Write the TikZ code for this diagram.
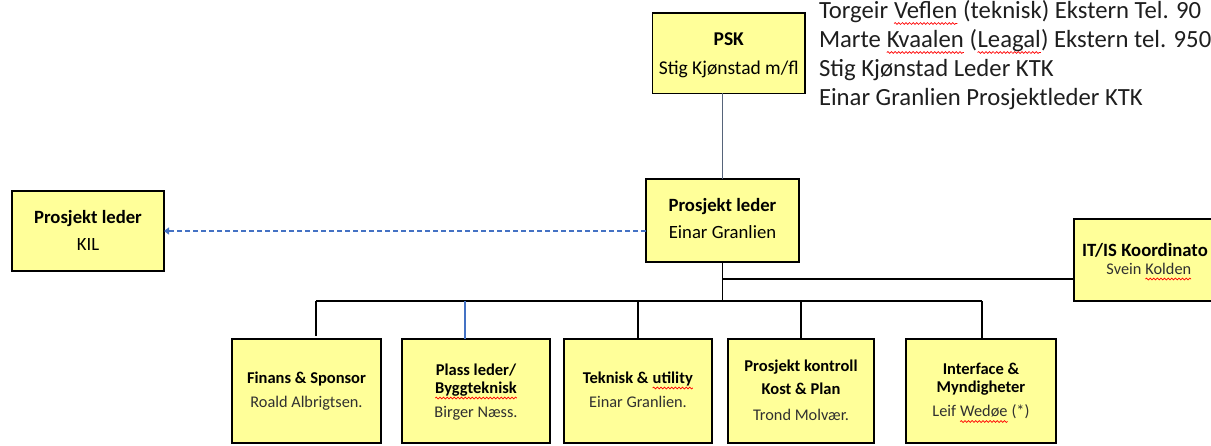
\documentclass[tikz,border=0pt]{standalone}
\usepackage{fontspec}
\setmainfont{Carlito}
\usetikzlibrary{decorations.pathmorphing,arrows.meta}
\definecolor{boxfill}{HTML}{FFFF99}
\definecolor{dashblue}{HTML}{4472C4}
\definecolor{slateline}{HTML}{56647A}
\definecolor{subtxt}{HTML}{303030}
\definecolor{sidetxt}{HTML}{1E1E1E}
\newcommand\fsz[1]{\fontsize{#1}{#1}\selectfont}
\newcommand\sqg[1]{\tikz[baseline=(sqt.base)]{\node[inner sep=0pt,outer sep=0pt](sqt){#1};\draw[red,line width=0.7pt,decorate,decoration={snake,amplitude=0.9pt,segment length=3.6pt}]([yshift=-5pt]sqt.base west)--([yshift=-5pt]sqt.base east);}}
\begin{document}
\begin{tikzpicture}[x=1pt,y=-1pt,
 box/.style={draw=black,line width=1.6pt,fill=boxfill,inner sep=0pt,outer sep=0pt},
 conn/.style={draw=black,line width=1.4pt},
 lbl/.style={inner sep=0pt,outer sep=0pt,anchor=base},
 hdA/.style={lbl,font=\bfseries\fsz{18.7}},
 nmA/.style={lbl,font=\fsz{18.7}},
 hdB/.style={lbl,font=\bfseries\fsz{16.5}},
 nmB/.style={lbl,font=\fsz{16.3},text=subtxt},
 side/.style={inner sep=0pt,outer sep=0pt,anchor=base west,font=\fsz{24.7},text=sidetxt}]
\useasboundingbox (0,0) rectangle (1211,445);
\clip (0,0) rectangle (1211,445);
% boxes
\node[box,minimum width=152.5pt,minimum height=80.6pt] (psk) at (728.75,53) {};
\node[box,minimum width=153pt,minimum height=83pt] (pl) at (722.5,220.5) {};
\node[box,minimum width=152pt,minimum height=80pt] (kil) at (88,231) {};
\node[box,minimum width=150pt,minimum height=82pt] (itis) at (1149,260) {};
\node[box,minimum width=149pt,minimum height=104pt] (fin) at (306.5,391) {};
\node[box,minimum width=148pt,minimum height=104pt] (plass) at (476,391) {};
\node[box,minimum width=148pt,minimum height=104pt] (tek) at (638,391) {};
\node[box,minimum width=146pt,minimum height=104pt] (kon) at (801,391) {};
\node[box,minimum width=150pt,minimum height=104pt] (int) at (981,391) {};
% box texts
\node[hdA,font=\bfseries\fsz{19.5}] (pskA) at (728.75,45) {PSK};
\node[nmA,font=\fsz{19.5}] (pskB) at (728.75,74) {Stig Kjønstad m/fl};
\node[hdA] (plA) at (722.5,211) {Prosjekt leder};
\node[nmA] (plB) at (722.5,238) {Einar Granlien};
\node[hdA] (kilA) at (88,223) {Prosjekt leder};
\node[nmA] (kilB) at (88,250) {KIL};
\node[hdA,anchor=base west] (itA) at (1082,256.5) {IT/IS Koordinato};
\node[nmB] (itB) at (1149,274) {Svein \sqg{Kolden}};
\node[hdB] (finA) at (306.5,383) {Finans \& Sponsor};
\node[nmB] (finB) at (306.5,407) {Roald Albrigtsen.};
\node[hdB] (plaA) at (476,375) {Plass leder/};
\node[hdB] (plaB) at (476,393) {\sqg{Byggteknisk}};
\node[nmB] (plaC) at (476,417) {Birger Næss.};
\node[hdB] (tekA) at (638,383) {Teknisk \& \sqg{utility}};
\node[nmB] (tekB) at (638,407) {Einar Granlien.};
\node[hdB] (konA) at (801,371) {Prosjekt kontroll};
\node[hdB] (konB) at (801,394) {Kost \& Plan};
\node[nmB] (konC) at (801,420.5) {Trond Molvær.};
\node[hdB] (intA) at (981,374.5) {Interface \&};
\node[hdB] (intB) at (981,392.5) {Myndigheter};
\node[nmB] (intC) at (981,416.5) {Leif \sqg{Wedøe} (*)};
% side text
\node[side] (s1) at (819,18.5) {Torgeir \sqg{Veflen} (teknisk) Ekstern Tel. 90};
\node[side] (s2) at (819,47.5) {Marte \sqg{Kvaalen} (\sqg{Leagal}) Ekstern tel. 950};
\node[side] (s3) at (819,76.5) {Stig Kjønstad Leder KTK};
\node[side] (s4) at (819,105.5) {Einar Granlien Prosjektleder KTK};
% connectors
\coordinate (busL) at (316,301);
\coordinate (busR) at (982,301);
\coordinate (itj) at (722.5,279);
\coordinate (pj) at (465,301);
\draw[draw=slateline,line width=1.6pt] (pl.north) -- (pl.north |- psk.south);
\draw[conn] (pl.south) -- (pl.south |- busL);
\draw[conn] (itj) -- (itj -| itis.west);
\draw[conn] (busL) -- (busR);
\draw[conn] (busL) -- ([yshift=3pt]busL |- fin.north);
\draw[draw=dashblue,line width=1.4pt] (pj) -- (pj |- plass.north);
\draw[conn] (tek.north |- busL) -- (tek.north);
\draw[conn] (kon.north |- busL) -- (kon.north);
\draw[conn] (busR) -- (busR |- int.north);
\draw[draw=dashblue,line width=1.5pt,dash pattern=on 5pt off 3pt,-{Triangle[length=5pt,width=7pt]}] (kil.east -| pl.west) -- (kil.east);
\end{tikzpicture}
\end{document}
